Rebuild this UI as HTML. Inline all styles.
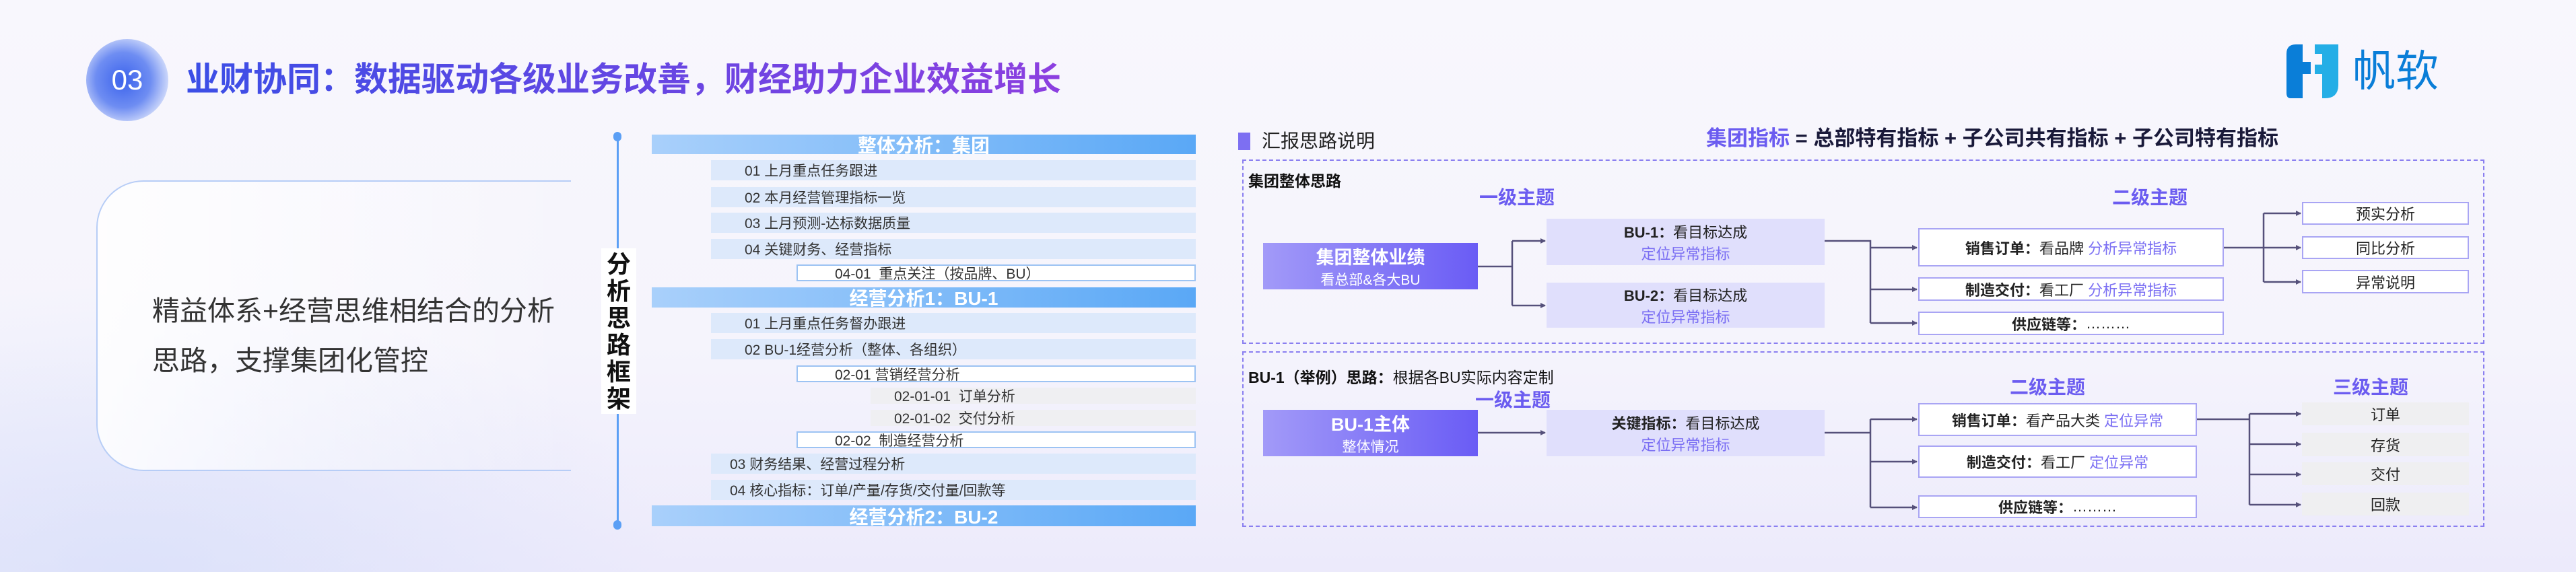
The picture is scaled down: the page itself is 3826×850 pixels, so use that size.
<!DOCTYPE html>
<html><head><meta charset="utf-8"><style>
*{margin:0;padding:0;box-sizing:border-box}
body{width:3826px;height:850px;overflow:hidden;position:relative;font-family:"Liberation Sans","Noto Sans CJK SC",sans-serif;background:linear-gradient(180deg,#f8f7fd 0%,#f5f4fc 60%,#eceafb 100%);}
.a{position:absolute}
.c{display:flex;align-items:center;justify-content:center;text-align:center}
.hd{background:linear-gradient(90deg,#a9d0fb,#5aa8f6);color:#fff;font-weight:bold;font-size:28px;left:968px;width:808px}
.it{background:#dde9fb;left:1056px;width:720px;font-size:21px;color:#333;padding-left:50px;display:flex;align-items:center;height:30px}
.wb{background:#fff;border:2px solid #9cc3f3;left:1183px;width:593px;font-size:21px;color:#333;padding-left:55px;display:flex;align-items:center;height:25px}
.gb{background:#efeff2;left:1293px;width:483px;font-size:21px;color:#333;padding-left:35px;display:flex;align-items:center;height:24px}
.pb{background:linear-gradient(90deg,#a29af8,#6a5cf5);color:#fff;flex-direction:column}
.lb{background:#e0dffc;flex-direction:column;font-size:22px;color:#222}
.sb{background:#fff;border:2px solid #a9a5f4;font-size:22px;color:#222}
.tb{background:#fff;border:2px solid #a9a5f4;font-size:22px;color:#222}
.gy{background:#efeff1;font-size:22px;color:#222}
.pu{color:#7a6ef3}
.th{color:#6b5cf0;font-weight:bold;font-size:28px}
</style></head><body>
<div class="a" style="left:0;top:420px;width:1000px;height:430px;background:radial-gradient(ellipse at 20% 100%,rgba(210,220,250,.6),rgba(255,255,255,0) 70%)"></div>
<!-- circle -->
<div class="a c" style="left:128px;top:58px;width:122px;height:122px;border-radius:50%;background:radial-gradient(circle at 45% 50%,#3c63ec 0%,#6e8df2 45%,#dfe6fc 80%,rgba(240,243,253,0) 100%);color:#fff;font-size:42px">03</div>
<div class="a" style="left:276px;top:88px;font-size:50px;font-weight:bold;white-space:nowrap;background:linear-gradient(90deg,#3b4ee6,#8c3fe0);-webkit-background-clip:text;color:transparent;line-height:60px">业财协同：数据驱动各级业务改善，财经助力企业效益增长</div>
<!-- logo -->
<svg class="a" style="left:3396px;top:66px" width="78" height="80" viewBox="0 0 78 80"><path d="M14 0H24V26H36V44H24V80H6Q0 80 0 72V14Q0 0 14 0Z" fill="#0a7ed8"/><path d="M42 0H77V60Q77 80 57 80H53V44H42V30H53V14H42Z" fill="#24aee6"/></svg>
<div class="a" style="left:3494px;top:70px;font-size:64px;color:#0a7ed8;line-height:72px">帆软</div>
<!-- left card -->
<div class="a" style="left:143px;top:268px;width:705px;height:432px;border:2px solid #b7cdf6;border-right:none;border-radius:70px 0 0 70px;background:linear-gradient(90deg,rgba(255,255,255,.85),rgba(255,255,255,0))"></div>
<div class="a" style="left:226px;top:425px;font-size:41px;color:#333;line-height:74px">精益体系+经营思维相结合的分析<br>思路，支撑集团化管控</div>
<!-- vertical line -->
<div class="a" style="left:916px;top:200px;width:3px;height:580px;background:#5b9ff5"></div>
<div class="a" style="left:911px;top:196px;width:12px;height:14px;border-radius:6px;background:#5b9ff5"></div>
<div class="a" style="left:911px;top:773px;width:12px;height:14px;border-radius:6px;background:#5b9ff5"></div>
<div class="a" style="left:893px;top:369px;width:52px;height:246px;background:#fff;font-size:36px;font-weight:bold;color:#111;text-align:center;line-height:40px;padding-top:4px">分<br>析<br>思<br>路<br>框<br>架</div>
<!-- list -->
<div class="a c hd" style="top:200px;height:29px">整体分析：集团</div>
<div class="a it" style="top:238px">01 上月重点任务跟进</div>
<div class="a it" style="top:278px">02 本月经营管理指标一览</div>
<div class="a it" style="top:316px">03 上月预测-达标数据质量</div>
<div class="a it" style="top:355px">04 关键财务、经营指标</div>
<div class="a wb" style="top:393px">04-01&nbsp; 重点关注（按品牌、BU）</div>
<div class="a c hd" style="top:427px;height:30px">经营分析1：BU-1</div>
<div class="a it" style="top:465px">01 上月重点任务督办跟进</div>
<div class="a it" style="top:504px">02 BU-1经营分析（整体、各组织）</div>
<div class="a wb" style="top:543px">02-01 营销经营分析</div>
<div class="a gb" style="top:576px">02-01-01&nbsp; 订单分析</div>
<div class="a gb" style="top:609px">02-01-02&nbsp; 交付分析</div>
<div class="a wb" style="top:641px">02-02&nbsp; 制造经营分析</div>
<div class="a it" style="top:674px;padding-left:28px">03 财务结果、经营过程分析</div>
<div class="a it" style="top:713px;padding-left:28px">04 核心指标：订单/产量/存货/交付量/回款等</div>
<div class="a c hd" style="top:751px;height:31px">经营分析2：BU-2</div>
<!-- right -->
<div class="a" style="left:1839px;top:197px;width:18px;height:26px;background:#7d6ff2"></div>
<div class="a" style="left:1874px;top:193px;font-size:28px;color:#222;line-height:34px">汇报思路说明</div>
<div class="a" style="left:2534px;top:186px;font-size:31px;font-weight:bold;color:#1a1a3a;line-height:40px;white-space:nowrap"><span style="color:#6b5cf0">集团指标</span> = 总部特有指标 + 子公司共有指标 + 子公司特有指标</div>
<div class="a" style="left:1845px;top:237px;width:1845px;height:274px;border:2px dashed #8a7ff0"></div>
<div class="a" style="left:1845px;top:522px;width:1845px;height:261px;border:2px dashed #8a7ff0"></div>
<div class="a" style="left:1854px;top:250px;font-size:23px;font-weight:bold;color:#111">集团整体思路</div>
<div class="a th" style="left:2197px;top:272px">一级主题</div>
<div class="a th" style="left:3137px;top:272px">二级主题</div>
<div class="a c pb" style="left:1876px;top:361px;width:319px;height:69px"><div style="font-size:27px;font-weight:bold">集团整体业绩</div><div style="font-size:21px">看总部&amp;各大BU</div></div>
<div class="a c lb" style="left:2297px;top:325px;width:413px;height:69px"><div><b>BU-1：</b>看目标达成</div><div class="pu">定位异常指标</div></div>
<div class="a c lb" style="left:2297px;top:420px;width:413px;height:67px"><div><b>BU-2：</b>看目标达成</div><div class="pu">定位异常指标</div></div>
<div class="a c sb" style="left:2849px;top:339px;width:454px;height:57px"><b>销售订单：</b>看品牌&nbsp; <span class="pu">分析异常指标</span></div>
<div class="a c sb" style="left:2849px;top:412px;width:454px;height:35px"><b>制造交付：</b>看工厂&nbsp; <span class="pu">分析异常指标</span></div>
<div class="a c sb" style="left:2849px;top:463px;width:454px;height:35px"><b>供应链等：</b>………</div>
<div class="a c tb" style="left:3419px;top:300px;width:248px;height:34px">预实分析</div>
<div class="a c tb" style="left:3419px;top:351px;width:248px;height:34px">同比分析</div>
<div class="a c tb" style="left:3419px;top:401px;width:248px;height:35px">异常说明</div>

<div class="a" style="left:1854px;top:542px;font-size:23px;color:#111"><b>BU-1（举例）思路：</b>根据各BU实际内容定制</div>
<div class="a th" style="left:2191px;top:573px">一级主题</div>
<div class="a th" style="left:2985px;top:554px">二级主题</div>
<div class="a th" style="left:3465px;top:554px">三级主题</div>
<div class="a c pb" style="left:1876px;top:609px;width:319px;height:69px"><div style="font-size:27px;font-weight:bold">BU-1主体</div><div style="font-size:21px">整体情况</div></div>
<div class="a c lb" style="left:2297px;top:609px;width:413px;height:69px"><div><b>关键指标：</b>看目标达成</div><div class="pu">定位异常指标</div></div>
<div class="a c sb" style="left:2849px;top:599px;width:414px;height:49px"><b>销售订单：</b>看产品大类&nbsp; <span class="pu">定位异常</span></div>
<div class="a c sb" style="left:2849px;top:662px;width:414px;height:48px"><b>制造交付：</b>看工厂&nbsp; <span class="pu">定位异常</span></div>
<div class="a c sb" style="left:2849px;top:736px;width:414px;height:34px"><b>供应链等：</b>………</div>
<div class="a c gy" style="left:3419px;top:598px;width:248px;height:34px">订单</div>
<div class="a c gy" style="left:3419px;top:643px;width:248px;height:35px">存货</div>
<div class="a c gy" style="left:3419px;top:687px;width:248px;height:34px">交付</div>
<div class="a c gy" style="left:3419px;top:732px;width:248px;height:34px">回款</div>

<svg class="a" style="left:0;top:0" width="3826" height="850">
<defs><marker id="ar" markerWidth="8" markerHeight="8" refX="7" refY="4" orient="auto" markerUnits="userSpaceOnUse"><path d="M0,0 L8,4 L0,8Z" fill="#55507a"/></marker></defs>
<g stroke="#55507a" stroke-width="2.5" fill="none">
<path d="M2195 396H2246M2246 358V454"/>
<path d="M2246 358H2295" marker-end="url(#ar)"/><path d="M2246 454H2295" marker-end="url(#ar)"/>
<path d="M2710 358H2778V480"/>
<path d="M2778 368H2847" marker-end="url(#ar)"/><path d="M2778 430H2847" marker-end="url(#ar)"/><path d="M2778 480H2847" marker-end="url(#ar)"/>
<path d="M3303 368H3362M3362 317V419"/>
<path d="M3362 317H3417" marker-end="url(#ar)"/><path d="M3362 368H3417" marker-end="url(#ar)"/><path d="M3362 419H3417" marker-end="url(#ar)"/>
<path d="M2195 643H2295" marker-end="url(#ar)"/>
<path d="M2710 643H2778M2778 623V754"/>
<path d="M2778 623H2847" marker-end="url(#ar)"/><path d="M2778 686H2847" marker-end="url(#ar)"/><path d="M2778 754H2847" marker-end="url(#ar)"/>
<path d="M3263 623H3341M3341 615V750"/>
<path d="M3341 615H3417" marker-end="url(#ar)"/><path d="M3341 660H3417" marker-end="url(#ar)"/><path d="M3341 705H3417" marker-end="url(#ar)"/><path d="M3341 750H3417" marker-end="url(#ar)"/>
</g></svg>
</body></html>
